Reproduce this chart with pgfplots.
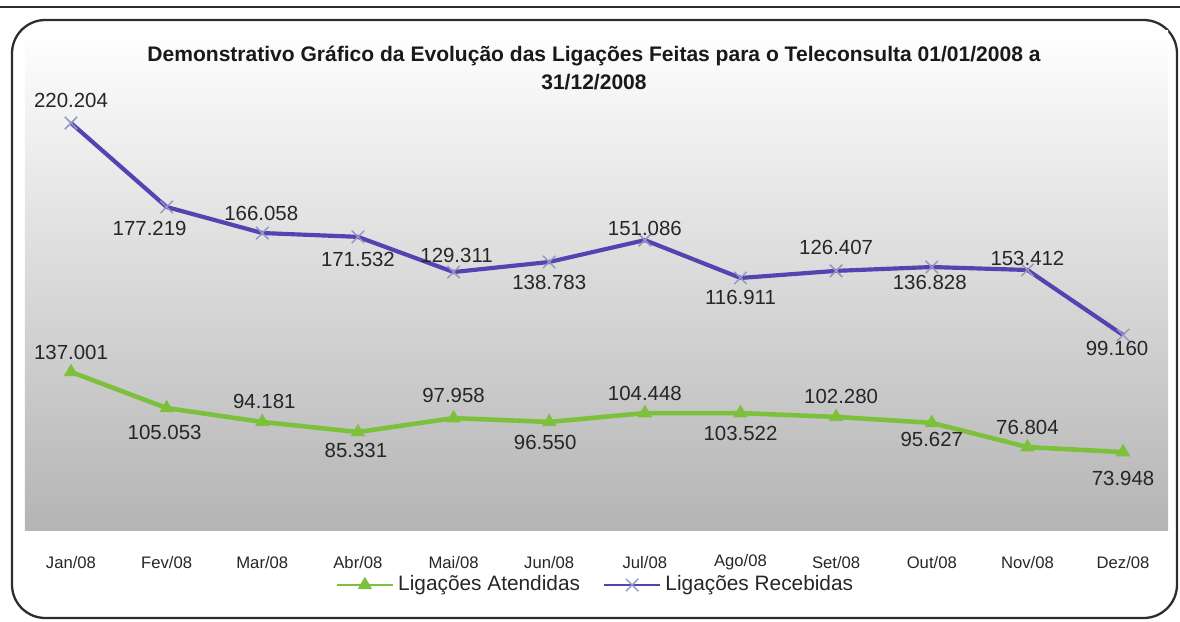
\documentclass[border=0pt]{standalone}
\usepackage{fontspec}
\setmainfont{Liberation Sans}
\usepackage{pgfplots}
\pgfplotsset{compat=1.18}
\usepackage{pgfplotstable}

\definecolor{roxo}{RGB}{84,68,178}
\definecolor{verde}{RGB}{124,192,60}
\definecolor{cruz}{RGB}{150,150,195}
\definecolor{borda}{RGB}{45,45,45}

% positions, labels as printed on it
\pgfplotstableread{
x y lab dx dy
0 221.2 220.204 0 23
1 192.8 177.219 -17 -21
2 184.0 166.058 -1 20
3 182.7 171.532 0 -23
4 170.8 129.311 3 17
5 174.2 138.783 0 -20
6 181.6 151.086 0 12
7 168.8 116.911 0 -20
8 171.2 126.407 0 23
9 172.5 136.828 -2 -15
10 171.5 153.412 0 12
11 149.5 99.160 -6 -13
}\recebidas

\pgfplotstableread{
x y lab dx dy
0 137.0 137.001 0 20
1 124.8 105.053 -2 -24
2 120.1 94.181 2 20
3 116.7 85.331 -2 -18
4 121.4 97.958 0 23
5 120.1 96.550 -4 -21
6 123.1 104.448 0 20
7 123.1 103.522 0 -20
8 121.8 102.280 5 20
9 119.8 95.627 0 -17
10 111.6 76.804 0 20
11 109.9 73.948 0 -26
}\atendidas

\begin{document}
\begin{tikzpicture}
\begin{scope}[x=0.48pt,y=-0.48pt,yshift=298.08pt]
  \draw[borda,line width=1pt] (0,7) -- (1180,7);
  \draw[borda,line width=1.1pt,rounded corners=16pt] (12,20) rectangle (1177,618);
\end{scope}

\begin{axis}[
  at={(12pt,43.68pt)}, anchor=south west,
  width=548.64pt, height=240pt, scale only axis,
  xmin=-0.481, xmax=11.47,
  ymin=83.56, ymax=252.66,
  axis line style={draw=none},
  axis background/.style={shade, top color=white, middle color={rgb,255:red,222;green,222;blue,222}, bottom color={rgb,255:red,180;green,180;blue,180}},
  ytick=\empty,
  xtick={0,...,11},
  xticklabels={Jan/08,Fev/08,Mar/08,Abr/08,Mai/08,Jun/08,Jul/08,Ago/08,Set/08,Out/08,Nov/08,Dez/08},
  major tick length=0pt,
  xticklabel style={font=\fontsize{8}{9}\selectfont, text=black!85, anchor=center, yshift=-15.4pt},
  point meta=explicit symbolic,
  nodes near coords,
  visualization depends on={\thisrow{dx} \as \ldx},
  visualization depends on={\thisrow{dy} \as \ldy},
  every node near coord/.append style={anchor=center, xshift={\ldx*0.48pt}, yshift={\ldy*0.48pt}, font=\fontsize{9.8}{11}\selectfont, text=black!85, inner sep=0pt},
  legend columns=2,
  legend style={at={(axis description cs:0.5,-0.11)}, anchor=center, draw=none, fill=none,
    font=\fontsize{10}{12}\selectfont, text=black!85,
    /tikz/every even column/.append style={column sep=9pt}},
  legend image code/.code={\draw[#1,line width=1pt,mark repeat=2,mark phase=2] plot coordinates {(0pt,0pt) (13.5pt,0pt) (27pt,0pt)};},
  clip=false,
]
\addplot[verde, line width=2.2pt, mark=triangle*, mark size=3.6pt, mark options={solid, fill=verde, draw=verde, line width=0.4pt}]
  table[x=x, y=y, meta=lab] {\atendidas};
\addlegendentry{Ligações Atendidas}
\addplot[roxo, line width=2pt, mark=x, mark size=4.2pt, mark options={solid, draw=cruz, line width=0.7pt}]
  table[x=x, y=y, meta=lab] {\recebidas};
\addlegendentry{Ligações Recebidas}
\end{axis}

\begin{scope}[x=0.48pt,y=-0.48pt,yshift=298.08pt]
  \node[align=center, font=\bfseries\fontsize{10.1}{13}\selectfont, text=black!90] at (594,68)
    {Demonstrativo Gráfico da Evolução das Ligações Feitas para o Teleconsulta 01/01/2008 a\\31/12/2008};
\end{scope}
\pgfresetboundingbox
\path[use as bounding box] (0,0) rectangle (566.4pt,298.08pt);
\end{tikzpicture}
\end{document}
